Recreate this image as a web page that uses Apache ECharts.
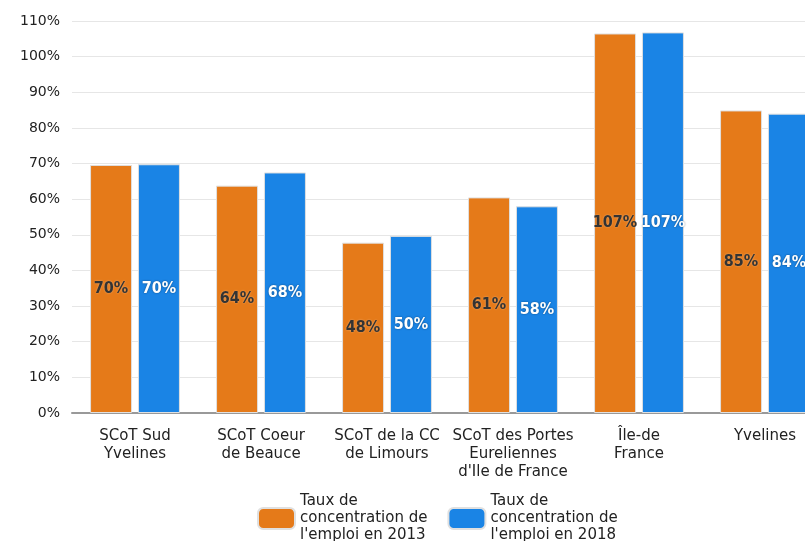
<!DOCTYPE html>
<html>
<head>
<meta charset="utf-8">
<script src="https://cdn.jsdelivr.net/npm/echarts@6/dist/echarts.min.js"></script>
<style>
  html, body { margin: 0; padding: 0; background: #fff; }
  #chart { width: 805px; height: 541px; }
</style>
</head>
<body>
<div id="chart"></div>
<script>
// Données du graphique
const categories = [
  'SCoT Sud\nYvelines',
  'SCoT Coeur\nde Beauce',
  'SCoT de la CC\nde Limours',
  'SCoT des Portes\nEureliennes\nd\'Ile de France',
  'Île-de\nFrance',
  'Yvelines'
];
const seriesNames = [
  'Taux de\nconcentration de\nl\'emploi en 2013',
  'Taux de\nconcentration de\nl\'emploi en 2018'
];
const values2013 = [69.6, 63.8, 47.8, 60.5, 106.5, 84.9];
const values2018 = [69.8, 67.5, 49.7, 58.0, 106.8, 84.0];

const chart = echarts.init(document.getElementById('chart'));

const font = 'DejaVu Sans';

const barLabel = (color, shadow) => ({
  show: true,
  position: 'inside',
  formatter: (p) => Math.round(p.value) + '%',
  color: color,
  fontFamily: 'DejaVu Sans Condensed',
  fontWeight: 'bold',
  fontSize: 16,
  textShadowColor: shadow,
  textShadowBlur: 2
});

const option = {
  animation: false,
  textStyle: { fontFamily: font },
  grid: {
    left: 72,
    top: 21,
    right: -23,
    bottom: 128,
    outerBoundsMode: 'none',
    containLabel: false
  },
  legend: {
    left: 252,
    top: 488,
    itemWidth: 37,
    itemHeight: 21,
    itemGap: 20,
    icon: 'roundRect',
    textStyle: {
      fontFamily: font,
      fontSize: 15,
      lineHeight: 17,
      color: '#222'
    },
    data: seriesNames
  },
  xAxis: {
    type: 'category',
    data: categories,
    axisTick: { show: false },
    axisLine: { lineStyle: { color: '#999', width: 2 } },
    axisLabel: {
      interval: 0,
      margin: 14,
      fontFamily: font,
      fontSize: 15,
      lineHeight: 18,
      color: '#222'
    }
  },
  yAxis: {
    type: 'value',
    min: 0,
    max: 110,
    interval: 10,
    axisLine: { show: false },
    axisTick: { show: false },
    splitLine: { lineStyle: { color: '#e6e6e6', width: 1 } },
    axisLabel: {
      formatter: '{value}%',
      margin: 12,
      fontFamily: font,
      fontSize: 14,
      color: '#222'
    }
  },
  series: [
    {
      name: seriesNames[0],
      type: 'bar',
      data: values2013,
      barWidth: 42,
      barGap: '14%',
      itemStyle: {
        color: '#e57a19',
        borderColor: '#e0e0e0',
        borderWidth: 1
      },
      label: barLabel('#333', 'rgba(255,255,255,0.4)')
    },
    {
      name: seriesNames[1],
      type: 'bar',
      data: values2018,
      barWidth: 42,
      itemStyle: {
        color: '#1a84e5',
        borderColor: '#e0e0e0',
        borderWidth: 1
      },
      label: barLabel('#fff', 'rgba(0,0,0,0.45)')
    }
  ]
};

chart.setOption(option);
</script>
</body>
</html>
